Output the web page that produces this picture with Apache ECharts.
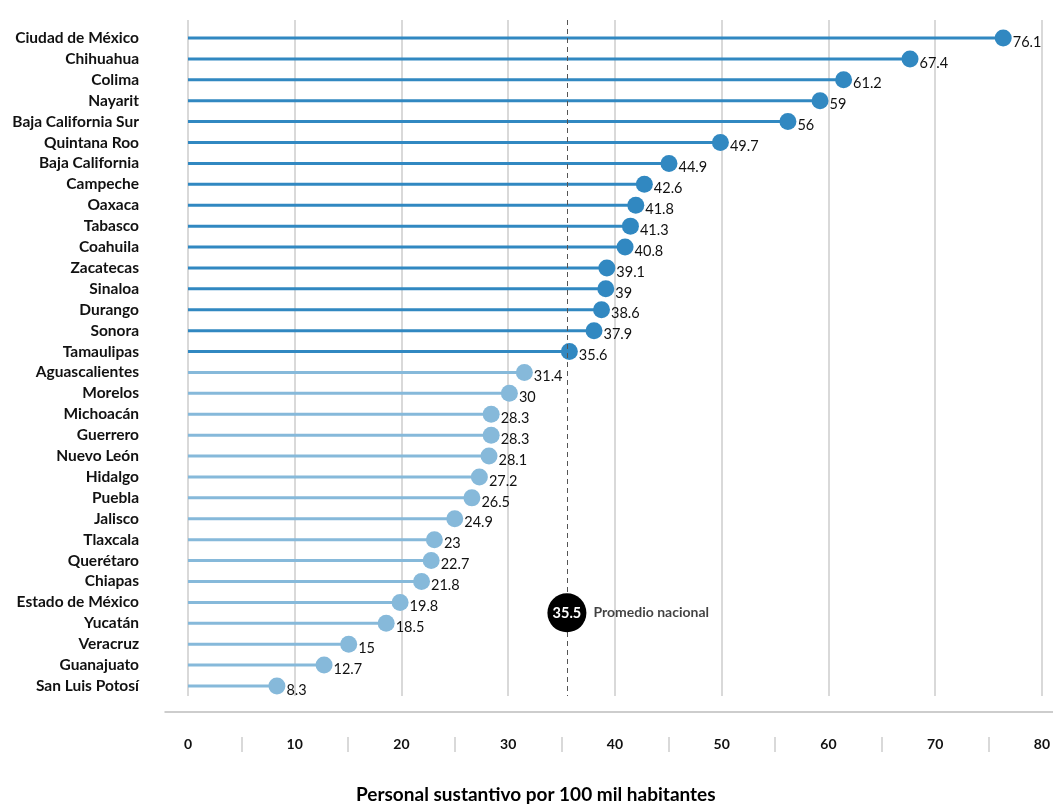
<!DOCTYPE html>
<html>
<head>
<meta charset="utf-8">
<script src="https://cdn.jsdelivr.net/npm/echarts@6/dist/echarts.min.js"></script>
<style>
html,body{margin:0;padding:0;background:#fff;}
#chart{width:1053px;height:804px;}
</style>
</head>
<body>
<div id="chart"></div>
<script>
const states = ["Ciudad de México","Chihuahua","Colima","Nayarit","Baja California Sur","Quintana Roo","Baja California","Campeche","Oaxaca","Tabasco","Coahuila","Zacatecas","Sinaloa","Durango","Sonora","Tamaulipas","Aguascalientes","Morelos","Michoacán","Guerrero","Nuevo León","Hidalgo","Puebla","Jalisco","Tlaxcala","Querétaro","Chiapas","Estado de México","Yucatán","Veracruz","Guanajuato","San Luis Potosí"];
const values = [76.1,67.4,61.2,59,56,49.7,44.9,42.6,41.8,41.3,40.8,39.1,39,38.6,37.9,35.6,31.4,30,28.3,28.3,28.1,27.2,26.5,24.9,23,22.7,21.8,19.8,18.5,15,12.7,8.3];
const nationalAverage = 35.5;
const averageLabel = "Promedio nacional";
const averageRow = 27.5; // between Estado de México and Yucatán
const xTicks = [0,10,20,30,40,50,60,70,80];
const axisTitle = "Personal sustantivo por 100 mil habitantes";

const DARK = '#3188c1', LIGHT = '#86b9da';
const colorFor = v => v > nationalAverage ? DARK : LIGHT;
const FONT = 'Lato';

const chart = echarts.init(document.getElementById('chart'));
chart.setOption({
  animation: false,
  textStyle: {fontFamily: FONT},
  title: {
    text: axisTitle, left: 356, top: 785, padding: 0,
    textStyle: {fontFamily: FONT, fontWeight: 'bold', fontSize: 19, lineHeight: 19, color: '#000'}
  },
  grid: [
    {left: 188, right: 8, top: 20, height: 676},
    {left: 188, right: 8, top: 27.55, height: 668.9},
    {left: 165, right: 0, top: 711, height: 1}
  ],
  xAxis: [
    {gridIndex: 0, type: 'value', min: xTicks[0], max: xTicks[xTicks.length-1], interval: 10, position: 'bottom',
     axisLine: {show: false}, axisTick: {show: false},
     splitLine: {show: true, lineStyle: {color: '#cdcdcd', width: 1.5}},
     axisLabel: {margin: 41, fontFamily: FONT, fontWeight: 'bold', fontSize: 14, color: '#111', showMinLabel: true, showMaxLabel: true}},
    {gridIndex: 1, type: 'value', min: xTicks[0], max: xTicks[xTicks.length-1], show: false},
    {gridIndex: 0, type: 'value', min: xTicks[0], max: xTicks[xTicks.length-1], interval: 10, position: 'bottom', offset: 41,
     axisLine: {show: false}, axisTick: {show: false}, axisLabel: {show: false}, splitLine: {show: false},
     minorTick: {show: true, splitNumber: 2, length: 15, lineStyle: {color: '#cdcdcd', width: 1.5}}},
    {gridIndex: 2, type: 'value', min: 0, max: 1, position: 'top',
     axisLine: {show: true, lineStyle: {color: '#bdbdbd', width: 1.5}},
     axisTick: {show: false}, axisLabel: {show: false}, splitLine: {show: false}}
  ],
  yAxis: [
    {gridIndex: 0, type: 'value', min: -0.861, max: 31.478, inverse: true, show: false},
    {gridIndex: 1, type: 'category', data: states, inverse: true,
     axisLine: {show: false}, axisTick: {show: false}, splitLine: {show: false},
     axisLabel: {margin: 49, interval: 0, fontFamily: FONT, fontWeight: 'bold', fontSize: 15.5, color: '#111'}},
    {gridIndex: 2, type: 'value', show: false}
  ],
  series: [
    {type: 'bar', xAxisIndex: 1, yAxisIndex: 1, barWidth: 3, silent: true,
     data: values.map(v => ({value: v, itemStyle: {color: colorFor(v)}}))},
    {type: 'scatter', xAxisIndex: 1, yAxisIndex: 1, symbolSize: 17, silent: true,
     data: values.map(v => ({value: v, itemStyle: {color: colorFor(v), opacity: 1}})),
     label: {show: true, position: 'right', distance: 1, offset: [0, 4],
             fontFamily: FONT, fontSize: 14.5, color: '#111', formatter: p => String(p.value)}},
    {type: 'scatter', xAxisIndex: 0, yAxisIndex: 0, symbolSize: 39, silent: true, z: 5,
     data: [[nationalAverage, averageRow]],
     itemStyle: {color: '#000', opacity: 1},
     label: {show: true, position: 'inside', fontFamily: FONT, fontWeight: 'bold', fontSize: 14.5, color: '#fff',
             formatter: () => String(nationalAverage)},
     markLine: {silent: true, symbol: 'none', label: {show: false},
                lineStyle: {type: [5, 4], color: '#555', width: 1},
                data: [{xAxis: nationalAverage}]}},
    {type: 'scatter', xAxisIndex: 0, yAxisIndex: 0, symbolSize: 1, silent: true, z: 5,
     data: [[nationalAverage, averageRow]],
     itemStyle: {color: 'rgba(0,0,0,0)'},
     label: {show: true, position: 'right', distance: 26, fontFamily: FONT, fontWeight: 'bold', fontSize: 14, color: '#111',
             formatter: () => averageLabel}}
  ]
});
</script>
</body>
</html>
